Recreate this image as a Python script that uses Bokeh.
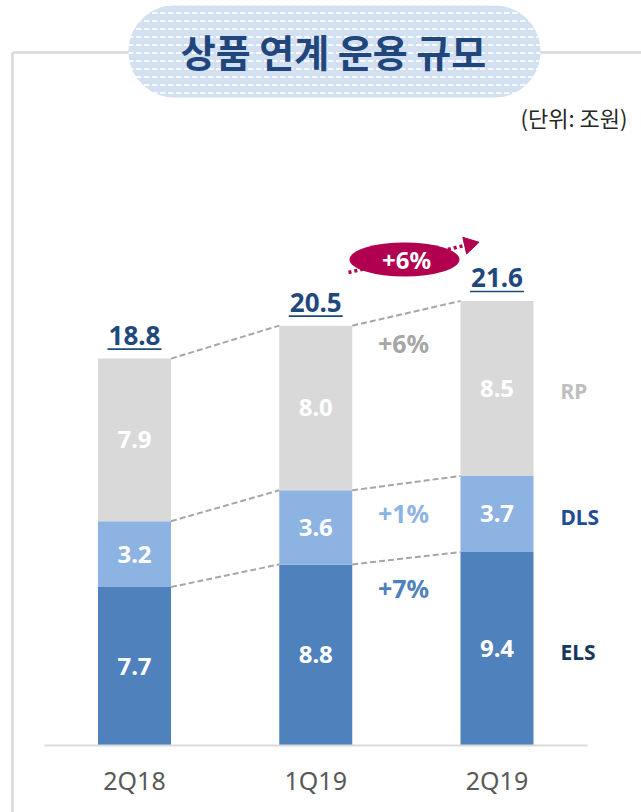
import numpy as np
from bokeh.plotting import figure
from bokeh.models import Range1d
from bokeh.core.properties import value
from bokeh.embed import file_html
from bokeh.resources import INLINE

# ---- data ----
quarters = ["2Q18", "1Q19", "2Q19"]
els = [7.7, 8.8, 9.4]
dls = [3.2, 3.6, 3.7]
rp = [7.9, 8.0, 8.5]
totals = [18.8, 20.5, 21.6]
series_names = ["ELS", "DLS", "RP"]
growth = ["+7%", "+1%", "+6%"]          # 1Q19 -> 2Q19 by series
total_growth = "+6%"
title = "상품 연계 운용 규모"
unit = "(단위: 조원)"

# ---- colours ----
C_ELS, C_DLS, C_RP = "#4f81bd", "#8db3e2", "#d9d9d9"
NAVY = "#1f497d"
MAG = "#b0004f"

# ---- pixel <-> data helpers (page coordinates) ----
W, H = 641, 812
PXX = 181.25   # px per category step
PXY = 20.58    # px per unit value
BASE_PY = 745  # page y of value 0
X0 = -134 / PXX


def X(px):
    return X0 + px / PXX


def Y(py):
    return (BASE_PY - py) / PXY


p = figure(width=W, height=H, x_range=Range1d(X(0), X(W)),
           y_range=Range1d(Y(H), Y(0)), output_backend="svg",
           toolbar_location=None, min_border=0, x_axis_type=None,
           y_axis_type=None, outline_line_color=None)
p.grid.visible = False
p.background_fill_color = "white"

# frame lines
p.line(x=[X(12), X(12)], y=[Y(52), Y(H)], line_color="#d9d9d9", line_width=2.5)
p.line(x=[X(12), X(W)], y=[Y(52), Y(52)], line_color="#d9d9d9", line_width=2.5)

# title pill (stadium)
r = 46
cy = 51
a1 = np.linspace(np.pi / 2, 3 * np.pi / 2, 40)
a2 = np.linspace(-np.pi / 2, np.pi / 2, 40)
pxs = np.concatenate([174 + r * np.cos(a1), 494 + r * np.cos(a2)])
pys = np.concatenate([cy - r * np.sin(a1), cy - r * np.sin(a2)])
p.patch(x=[X(v) for v in pxs], y=[Y(v) for v in pys], fill_color="#d3e0f1",
        line_color=None, hatch_pattern="horizontal_dash", hatch_color="white",
        hatch_scale=8, hatch_weight=2, hatch_alpha=0.85)
p.text(x=[X(333)], y=[Y(50)], text=[title], text_font=value("Noto Sans CJK KR"),
       text_font_style="bold", text_font_size="38px", text_color="#21467c",
       text_align="center", text_baseline="middle")

# unit
p.text(x=[X(627)], y=[Y(116)], text=[unit], text_font=value("Noto Sans CJK KR"),
       text_font_size="22px", text_color="#262626", text_align="right",
       text_baseline="middle")

# bars
idx = np.arange(len(quarters))
bw = 73 / PXX
els_a = np.array(els)
dls_top = els_a + np.array(dls)
rp_top = dls_top + np.array(rp)
p.vbar(x=idx, width=bw, bottom=0, top=els_a, fill_color=C_ELS, line_color=None)
p.vbar(x=idx, width=bw, bottom=els_a, top=dls_top, fill_color=C_DLS, line_color=None)
p.vbar(x=idx, width=bw, bottom=dls_top, top=rp_top, fill_color=C_RP, line_color=None)

# baseline
p.line(x=[X(44), X(587)], y=[0, 0], line_color="#d9d9d9", line_width=2)

# category labels
p.text(x=idx, y=[Y(779)] * 3, text=quarters, text_font=value("Noto Sans"),
       text_font_size="25px", text_color="#595959", text_align="center",
       text_baseline="middle")

# segment value labels
lab_x, lab_y, lab_t = [], [], []
for i in idx:
    for lo, hi, v in [(0, els_a[i], els[i]), (els_a[i], dls_top[i], dls[i]),
                      (dls_top[i], rp_top[i], rp[i])]:
        lab_x.append(i)
        lab_y.append((lo + hi) / 2)
        lab_t.append(f"{v:.1f}")
p.text(x=lab_x, y=lab_y, text=lab_t, text_font=value("Noto Sans"),
       text_font_style="bold", text_font_size="24px", text_color="white",
       text_align="center", text_baseline="middle")

# dashed connectors
sx0, sy0, sx1, sy1 = [], [], [], []
for L in [els_a, dls_top, rp_top]:
    for i in range(len(idx) - 1):
        sx0.append(i + bw / 2)
        sy0.append(L[i])
        sx1.append(i + 1 - bw / 2)
        sy1.append(L[i + 1])
p.segment(x0=sx0, y0=sy0, x1=sx1, y1=sy1, line_color="#a6a6a6",
          line_width=2, line_dash="6 3")

# totals with underline
p.text(x=idx, y=rp_top + 23 / PXY, text=[f"{t:.1f}" for t in totals],
       text_font=value("Noto Sans"), text_font_style="bold",
       text_font_size="26px", text_color=NAVY, text_align="center",
       text_baseline="middle")
uw = 27 / PXX
p.segment(x0=idx - uw, y0=rp_top + 9.5 / PXY, x1=idx + uw, y1=rp_top + 9.5 / PXY,
          line_color=NAVY, line_width=1.6)

# growth labels between 1Q19 and 2Q19
gcol = [C_ELS, C_DLS, "#a6a6a6"]
gy = [(L[1] + L[2]) / 2 - 30 / PXY for L in [els_a, dls_top, rp_top]]
p.text(x=[X(403)] * 3, y=gy, text=growth, text_font=value("Noto Sans"),
       text_font_style="bold", text_font_size="25px", text_color=gcol,
       text_align="center", text_baseline="middle")

# series names on right
sy = [els_a[2] / 2, (els_a[2] + dls_top[2]) / 2, (dls_top[2] + rp_top[2]) / 2]
sy = [v - 3 / PXY for v in sy]
p.text(x=[X(560)] * 3, y=sy, text=series_names, text_font=value("Noto Sans"),
       text_font_style="bold", text_font_size="21px",
       text_color=["#17375e", "#1f4e96", "#bfbfbf"], text_align="left",
       text_baseline="middle")

# total growth badge with dotted arrow
p.line(x=[X(348), X(466)], y=[Y(272), Y(244.5)], line_color=MAG,
       line_width=3.5, line_dash="3 3")
p.ellipse(x=[X(404)], y=[Y(259)], width=110, height=34, width_units="screen",
          height_units="screen", fill_color=MAG, line_color=None)
p.scatter(x=[X(469)], y=[Y(244)], marker="triangle", size=17,
          angle=-np.deg2rad(77), fill_color=MAG, line_color=MAG)
p.text(x=[X(406)], y=[Y(259)], text=[total_growth], text_font=value("Noto Sans"),
       text_font_style="bold", text_font_size="24px", text_color="white",
       text_align="center", text_baseline="middle")

open("out.html", "w").write(file_html(p, INLINE))
